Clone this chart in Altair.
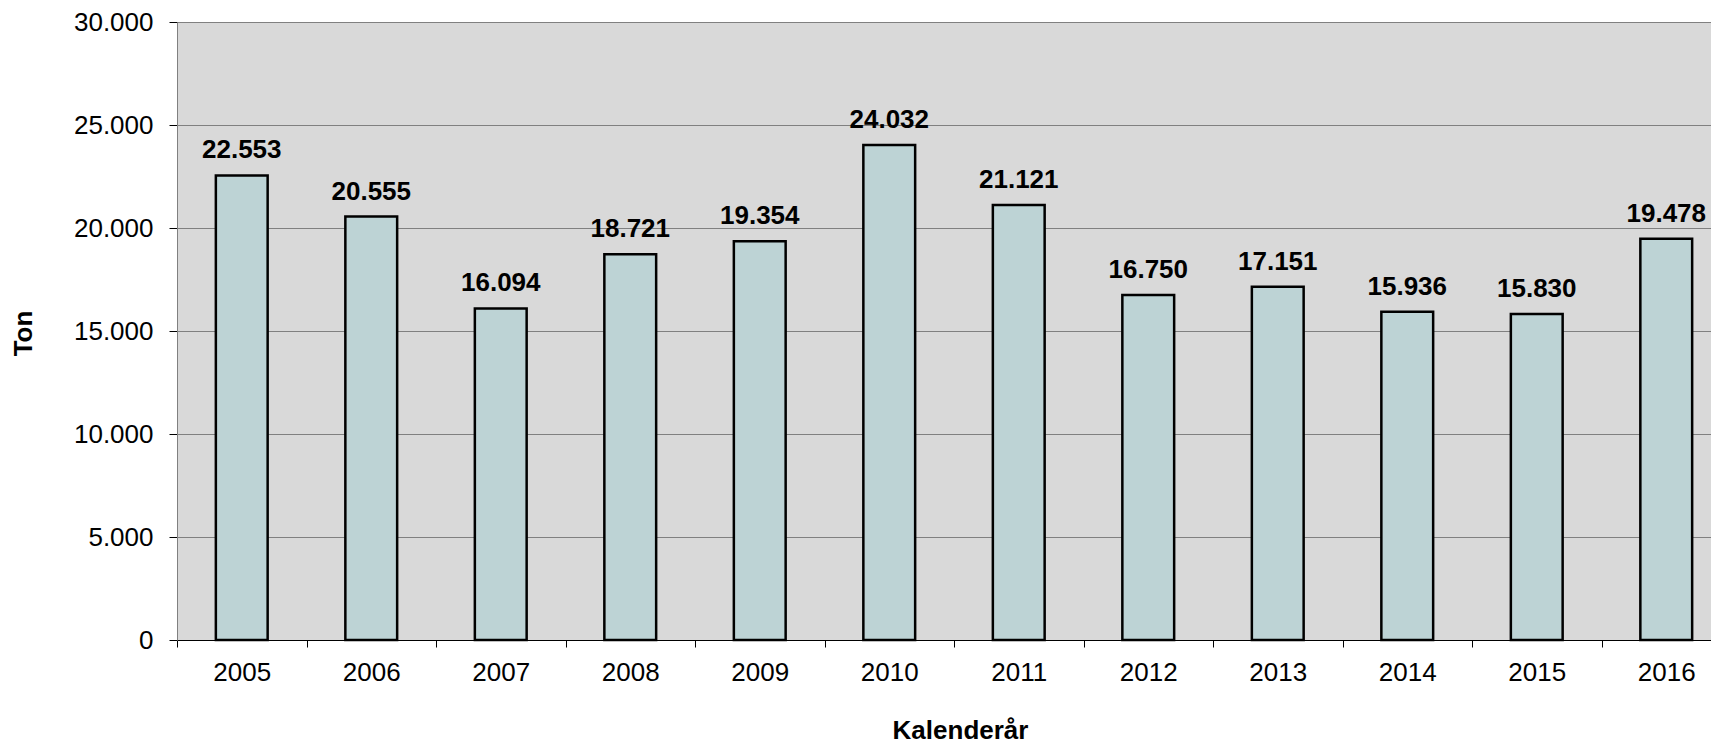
import altair as alt
import pandas as pd

years = ["2005", "2006", "2007", "2008", "2009", "2010", "2011", "2012", "2013", "2014", "2015", "2016"]
tons = [22553, 20555, 16094, 18721, 19354, 24032, 21121, 16750, 17151, 15936, 15830, 19478]
y_ticks = [0, 5000, 10000, 15000, 20000, 25000, 30000]

df = pd.DataFrame({"year": years, "ton": tons})
df["label"] = [f"{v:,}".replace(",", ".") for v in tons]

FONT = "Liberation Sans"
PLOT_W = 1534   # visible plot width
FULL_W = 1554   # full category range (right part falls outside the page, as in the reference)
PLOT_H = 618

x = alt.X(
    "year:N",
    sort=years,
    scale=alt.Scale(paddingInner=0, paddingOuter=0, range=[0, FULL_W]),
    axis=alt.Axis(
        title="Kalenderår",
        labelAngle=0,
        tickBand="extent",
        tickSize=7,
        tickColor="#000000",
        domainColor="#000000",
        labelPadding=12,
        labelFontSize=26,
        titleFontSize=26,
        titleX=783,
        titleY=98,
        titleAlign="center",
        titleBaseline="alphabetic",
    ),
)
y = alt.Y(
    "ton:Q",
    scale=alt.Scale(domain=[0, 30000], nice=False),
    axis=alt.Axis(
        title="Ton",
        values=y_ticks,
        labelExpr="replace(format(datum.value, ','), ',', '.')",
        tickSize=8,
        tickColor="#000000",
        domainColor="#808080",
        gridColor="#808080",
        labelPadding=16,
        labelFontSize=26,
        titleFontSize=26,
        titleX=-154,
        titleY=311,
        titleAngle=-90,
        titleAlign="center",
        titleBaseline="middle",
    ),
)

bars = alt.Chart(df).mark_bar(
    width=alt.RelativeBandSize(0.4),
    fill="#BDD3D5",
    stroke="#000000",
    strokeWidth=2.5,
).encode(x=x, y=y)

labels = alt.Chart(df).mark_text(
    fontSize=26,
    fontWeight="bold",
    baseline="alphabetic",
    dy=-17,
    color="#000000",
    font=FONT,
).encode(x=alt.X("year:N", sort=years), y="ton:Q", text="label:N")

chart = (
    alt.layer(bars, labels)
    .properties(
        width=PLOT_W,
        height=PLOT_H,
        autosize=alt.AutoSizeParams(type="none"),
        padding={"left": 169, "top": 14, "right": 0, "bottom": 106},
    )
    .configure(font=FONT)
    .configure_view(fill="#D9D9D9", stroke=None)
    .configure_axis(
        labelFont=FONT,
        titleFont=FONT,
        labelColor="#000000",
        titleColor="#000000",
        titleFontWeight="bold",
        grid=True,
        gridWidth=1,
    )
    .configure_axisX(grid=False)
)

chart.save("out.html", embed_options={"renderer": "svg", "actions": False})
